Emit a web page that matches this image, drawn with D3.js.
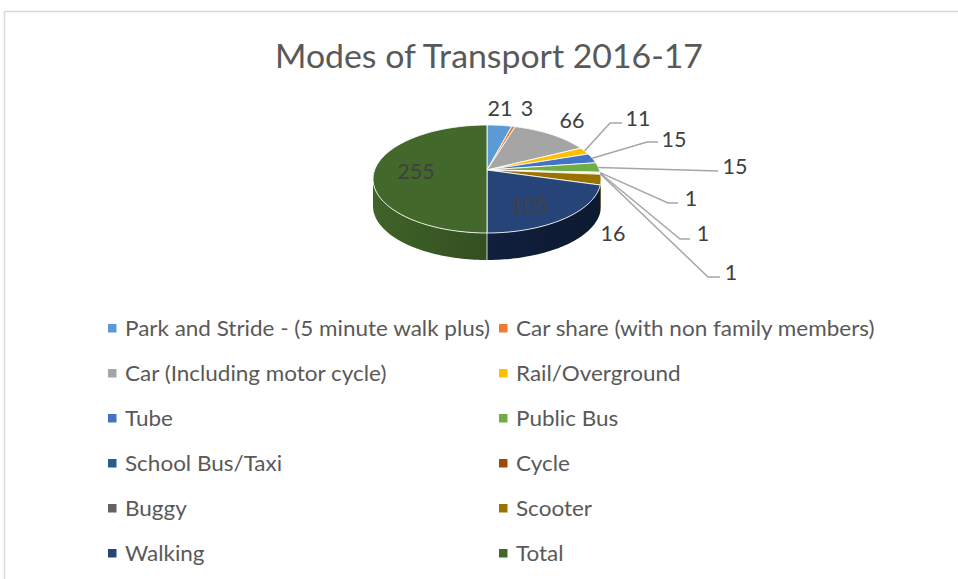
<!DOCTYPE html>
<html><head><meta charset="utf-8">
<style>html,body{margin:0;padding:0;background:#fff;overflow:hidden}svg{display:block;font-family:Lato,"Open Sans",sans-serif}</style>
<script src="https://cdn.jsdelivr.net/npm/d3@7"></script></head><body>
<svg id="c" width="958" height="579"></svg>
<script>
const title = "Modes of Transport 2016-17";
const categories = ["Park and Stride - (5 minute walk plus)","Car share (with non family members)","Car (Including motor cycle)","Rail/Overground","Tube","Public Bus","School Bus/Taxi","Cycle","Buggy","Scooter","Walking","Total"];
const values = [21,3,66,11,15,15,1,1,1,16,105,255];
const colors = ["#5B9BD5","#ED7D31","#A5A5A5","#FFC000","#4472C4","#70AD47","#255E91","#9E480E","#636363","#997300","#264478","#43682B"];
// layout only
const labelAt = [[500,108],[527,108],[572,120],[638,118],[674,139],[735,166],[691,198],[703,233],[731,272],[613,233],[529,205],[416,171]];
const elbows = {3:[[610,123],[622,123]],4:[[647,142],[658,142]],5:[[718,171],[718,171]],6:[[668,203],[678,203]],7:[[680,239],[690,239]],8:[[708,277],[720,277]]};

const svg = d3.select("#c");
const cx=487, cy=170, R=112.4, b=52.5, k=1/6, depth=27;
const proj = a => { // a: clockwise radians from 12 o'clock
  const x=Math.sin(a), y=-Math.cos(a), s=1/(1-k*y);
  return [cx+R*x*s, cy+b*y*s];
};
const arcs = d3.pie().sort(null).startAngle(0).endAngle(2*Math.PI)(values);
const sample = (a0,a1) => d3.range(0,61).map(i=>proj(a0+(a1-a0)*i/60));
const line = d3.line();
const defs = svg.append("defs");

// frame
svg.append("path").attr("d",line([[4.5,579],[4.5,11.5],[958,11.5]])).attr("fill","none").attr("stroke","#d9d9d9").attr("stroke-width",1.5);

// title
svg.append("text").attr("x",489).attr("y",68).attr("text-anchor","middle").attr("font-size",33).attr("fill","#595959").attr("textLength",428).attr("lengthAdjust","spacingAndGlyphs").text(title);

// walls
const wall0 = Math.PI/2+Math.asin(k), wall1 = 3*Math.PI/2-Math.asin(k);
arcs.forEach((d,i)=>{
  const a0=Math.max(d.startAngle,wall0), a1=Math.min(d.endAngle,wall1);
  if(a1<=a0) return;
  const top=sample(a0,a1), bottom=top.map(p=>[p[0],p[1]+depth]).reverse();
  const id="g"+i, base=d3.rgb(colors[i]);
  const ext=d3.extent(top,p=>p[0]);
  const leftF = i===11?0.88:0.45, rightF = i===11?0.56:0.42;
  const g=defs.append("linearGradient").attr("id",id).attr("gradientUnits","userSpaceOnUse")
    .attr("x1",ext[0]).attr("x2",ext[1]).attr("y1",0).attr("y2",0);
  g.append("stop").attr("offset",0).attr("stop-color",i===10?"#101f3d":base.darker(1/leftF-1).formatHex());
  g.append("stop").attr("offset",1).attr("stop-color",i===10?"#0c1a30":base.darker(1/rightF-1).formatHex());
  svg.append("path").attr("d",line(top.concat(bottom))+"Z").attr("fill",`url(#${id})`);
});
// wall seam at front
svg.append("path").attr("d",line([proj(Math.PI),[proj(Math.PI)[0],proj(Math.PI)[1]+depth]])).attr("stroke","#fff").attr("stroke-opacity",.8).attr("fill","none");

// top slices
arcs.forEach((d,i)=>{
  const pts=[[cx,cy]].concat(sample(d.startAngle,d.endAngle));
  svg.append("path").attr("d",line(pts)+"Z").attr("fill",colors[i]).attr("stroke","#fff").attr("stroke-opacity",.85).attr("stroke-width",1).attr("stroke-linejoin","round");
});

// leader lines
Object.keys(elbows).forEach(key=>{
  const i=+key, d=arcs[i], s=proj((d.startAngle+d.endAngle)/2);
  svg.append("path").attr("d",line([s].concat(elbows[key]))).attr("fill","none").attr("stroke","#a6a6a6").attr("stroke-width",1.5);
});

// data labels
values.forEach((v,i)=>{
  svg.append("text").attr("x",labelAt[i][0]).attr("y",labelAt[i][1]+7.5).attr("text-anchor","middle").attr("font-size",21.5).attr("fill","#404040").text(v);
});

// legend
const colX=d3.scaleOrdinal().domain([0,1]).range([108,499]);
const rowY=d3.scalePoint().domain(d3.range(6)).range([328,553]);
categories.forEach((c,i)=>{
  const col=i%2,row=Math.floor(i/2),x=colX(col),y=rowY(row);
  svg.append("rect").attr("x",x).attr("y",y-4).attr("width",8.5).attr("height",8.5).attr("fill",colors[i]);
  const t=svg.append("text").attr("x",x+17).attr("y",y+8).attr("font-size",21).attr("fill","#595959").text(c);
  t.attr("textLength",t.node().getComputedTextLength()*1.07).attr("lengthAdjust","spacingAndGlyphs");
});
</script></body></html>
